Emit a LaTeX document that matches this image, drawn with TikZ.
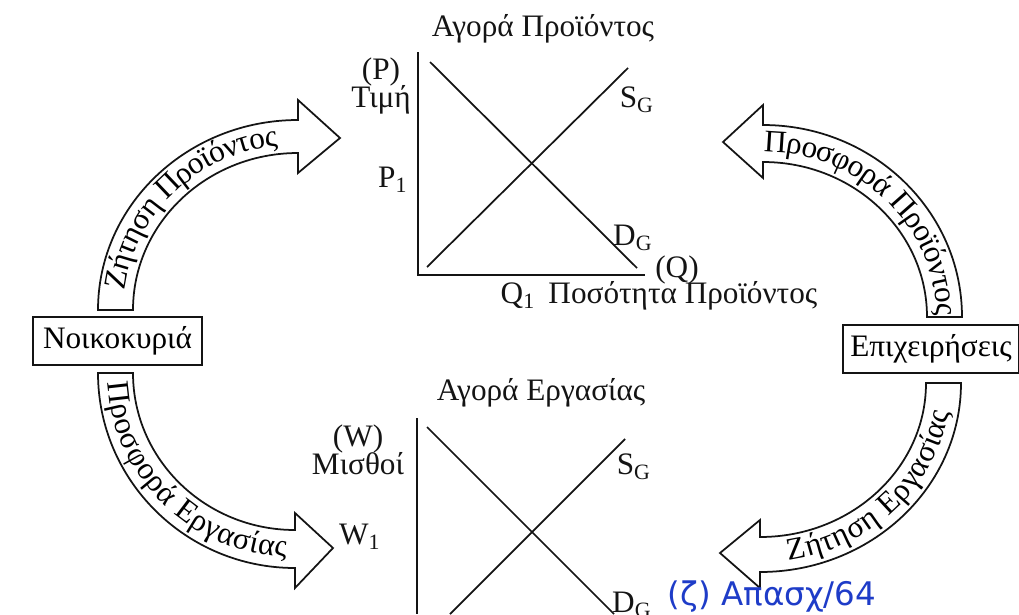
\documentclass[tikz,border=0pt]{standalone}
\usepackage{fontspec}
\setmainfont{Liberation Serif}
\newfontfamily\handfont{DejaVu Sans}
\usetikzlibrary{decorations.text}
\definecolor{ink}{RGB}{20,20,20}
\definecolor{pen}{RGB}{30,60,200}
\newcommand{\lblfont}{\fontsize{12.5}{14}\selectfont}
\tikzset{
  agent/.style={draw=ink, line width=0.8pt, inner sep=0pt, minimum height=19.2pt, font=\lblfont},
  label/.style={inner sep=1pt, align=center, font=\lblfont, text=ink},
  axis/.style={draw=ink, line width=0.8pt},
  curve/.style={draw=ink, line width=0.7pt},
  flow/.style={draw=ink, line width=0.7pt, fill=white},
  flowtext/.style={decorate, decoration={text along path, text align=center, raise=-0.7ex, text={|\lblfont|#1}}}
}
\begin{document}
\begin{tikzpicture}[x=0.4pt,y=-0.4pt]
    \useasboundingbox (0,0) rectangle (1019,614);
    \clip (0,0) rectangle (1019,614);
    % agents
    \node[agent, minimum width=67.6pt] (house) at (117.5,341) {Νοικοκυριά};
    \node[agent, minimum width=70.4pt] (firm) at (931,349) {Επιχειρήσεις};
    % product market
    \node[label] (ptitle) at (543,29) {Αγορά Προϊόντος};
    \coordinate (po) at (418,275);
    \draw[axis] (418,52) -- (po) -- (645,275);
    \draw[curve] (430,62) -- (637,268);
    \draw[curve] (427,267) -- (628,68);
    \node[label] (pax) at (381,86) {(P)\\[-3pt]Τιμή};
    \node[label] (p1) at (393,180) {P\textsubscript{1}};
    \node[label] (sg) at (637,100) {S\textsubscript{G}};
    \node[label] (dg) at (633,238) {D\textsubscript{G}};
    \node[label] (qax) at (677,270) {(Q)};
    \node[label] (qlab) at (659,296) {Q\textsubscript{1}\, Ποσότητα Προϊόντος};
    % labour market
    \node[label] (wtitle) at (541,393) {Αγορά Εργασίας};
    \draw[axis] (417,418) -- (417,614);
    \draw[curve] (427,427) -- (614,614);
    \draw[curve] (625,439) -- (450,614);
    \node[label] (wax) at (358,450) {(W)\\[-3pt]Μισθοί};
    \node[label] (w1) at (360,537) {W\textsubscript{1}};
    \node[label] (sgl) at (634,467) {S\textsubscript{G}};
    \node[label] (dgl) at (632,605) {D\textsubscript{G}};
    % flows
    \draw[flow] (98,310) arc[start angle=180, end angle=270, x radius=200, y radius=190]
      -- (298,100) -- (340,138) -- (298,173) -- (298,153)
      arc[start angle=270, end angle=180, x radius=165, y radius=157] -- cycle;
    \path[flowtext={Ζήτηση Προϊόντος}] (115.5,310) arc[start angle=180, end angle=270, x radius=182.5, y radius=173.5];
    \draw[flow] (962,317) arc[start angle=0, end angle=-90, x radius=199, y radius=192]
      -- (763,105) -- (723,142) -- (763,178) -- (763,162)
      arc[start angle=-90, end angle=0, x radius=164, y radius=155] -- cycle;
    \path[flowtext={Προσφορά Προϊόντος}] (763,143.5) arc[start angle=-90, end angle=0, x radius=181.5, y radius=173.5];
    \draw[flow] (98,373) arc[start angle=180, end angle=90, x radius=197, y radius=195]
      -- (295,588) -- (333,548) -- (295,513) -- (295,530)
      arc[start angle=90, end angle=180, x radius=162, y radius=157] -- cycle;
    \path[flowtext={Προσφορά Εργασίας}] (115.5,373) arc[start angle=180, end angle=90, x radius=179.5, y radius=176];
    \draw[flow] (961,383) arc[start angle=0, end angle=90, x radius=201, y radius=189]
      -- (760,588) -- (720,553) -- (760,520) -- (760,537)
      arc[start angle=90, end angle=0, x radius=166, y radius=154] -- cycle;
    \path[flowtext={Ζήτηση Εργασίας}] (760,554.5) arc[start angle=90, end angle=0, x radius=183.5, y radius=171.5];
    % note
    \node[label, text=pen, font=\handfont\fontsize{13}{15}\selectfont] (note) at (772,597) {(ζ) Απασχ/64};
\end{tikzpicture}
\end{document}
